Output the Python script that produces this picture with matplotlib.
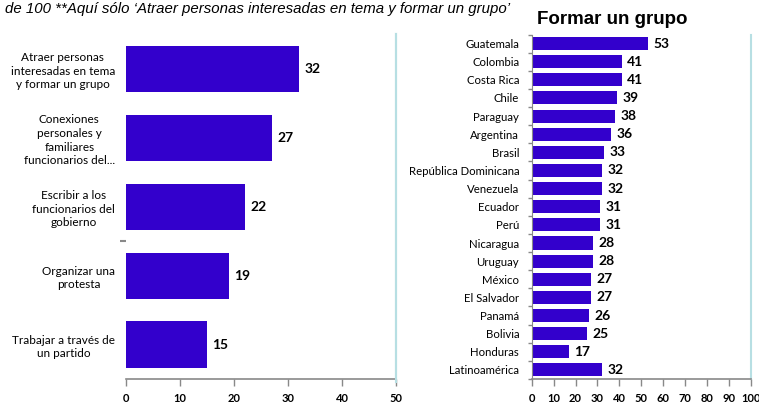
import matplotlib.pyplot as plt
from matplotlib.lines import Line2D

# Left panel: ways to influence the government
acciones = [
    'Atraer personas\ninteresadas en tema\ny formar un grupo',
    'Conexiones\npersonales y\nfamiliares\nfuncionarios del...',
    'Escribir a los\nfuncionarios del\ngobierno',
    'Organizar una\nprotesta',
    'Trabajar a través de\nun partido',
]
acciones_valores = [32, 27, 22, 19, 15]

# Right panel: 'Formar un grupo' by country
paises = ['Guatemala', 'Colombia', 'Costa Rica', 'Chile', 'Paraguay', 'Argentina',
          'Brasil', 'República Dominicana', 'Venezuela', 'Ecuador', 'Perú',
          'Nicaragua', 'Uruguay', 'México', 'El Salvador', 'Panamá', 'Bolivia',
          'Honduras', 'Latinoamérica']
paises_valores = [53, 41, 41, 39, 38, 36, 33, 32, 32, 31, 31, 28, 28, 27, 27,
                  26, 25, 17, 32]

left_ticks = [0, 10, 20, 30, 40, 50]
right_ticks = [0, 10, 20, 30, 40, 50, 60, 70, 80, 90, 100]

BAR = '#3300cc'
GRAY = '#898989'
BORDER = '#b7dfe3'
FONT = 'Lato'

fig = plt.figure(figsize=(7.59, 4.05), dpi=100)

ax1 = fig.add_axes([126 / 759, 1 - 379 / 405, 270 / 759, 344.5 / 405])
ax2 = fig.add_axes([531.7 / 759, 1 - 379 / 405, 219.3 / 759, 344.5 / 405])


def style_axis(ax, ticks, xmax):
    ax.set_xlim(0, xmax)
    ax.set_xticks(ticks)
    ax.set_xticklabels([str(t) for t in ticks], fontfamily=FONT,
                       fontsize=8, fontweight='bold')
    ax.tick_params(axis='x', length=5, width=1, color=GRAY, pad=5)
    ax.spines['top'].set_visible(False)
    ax.spines['bottom'].set_color(GRAY)
    ax.spines['bottom'].set_linewidth(1.2)
    ax.spines['right'].set_color(BORDER)
    ax.spines['right'].set_linewidth(1.5)


# left chart
y1 = range(len(acciones))
ax1.barh(y1, acciones_valores, height=0.67, color=BAR)
ax1.set_ylim(len(acciones) - 0.5, -0.5)
style_axis(ax1, left_ticks, 50)
ax1.spines['left'].set_visible(False)
ax1.set_yticks(list(y1))
ax1.set_yticklabels(acciones, fontfamily=FONT, fontsize=8.5, ha='right',
                    ma='center', linespacing=1.3)
ax1.tick_params(axis='y', length=0, pad=8)
ax1.set_yticks([2.5], minor=True)
ax1.tick_params(axis='y', which='minor', length=4, color=GRAY, width=1.5)
for i, v in enumerate(acciones_valores):
    ax1.text(v + 1, i, str(v), va='center', ha='left', fontfamily=FONT,
             fontsize=10, fontweight='bold')

# right chart
y2 = range(len(paises))
ax2.barh(y2, paises_valores, height=0.72, color=BAR)
ax2.set_ylim(len(paises) - 0.5, -0.5)
style_axis(ax2, right_ticks, 100)
ax2.spines['left'].set_color(GRAY)
ax2.set_yticks(list(y2))
ax2.set_yticklabels(paises, fontfamily=FONT, fontsize=8.2)
ax2.tick_params(axis='y', length=0, pad=9)
ax2.set_yticks([i + 0.5 for i in range(-1, len(paises))], minor=True)
ax2.tick_params(axis='y', which='minor', length=3, color=GRAY, width=1)
for i, v in enumerate(paises_valores):
    ax2.text(v + 2.5, i, str(v), va='center', ha='left', fontfamily=FONT,
             fontsize=10, fontweight='bold')

# outer frame of the right chart area
fig.add_artist(Line2D([396 / 759, 396 / 759], [1 - 382 / 405, 1 - 34 / 405],
                      color=BORDER, linewidth=1.5))

fig.text(612 / 759, 1 - 20 / 405, 'Formar un grupo', ha='center', va='center',
         fontfamily='Liberation Sans', fontsize=13.5, fontweight='bold')
fig.text(5 / 759, 1 - 9 / 405,
         'de 100 **Aquí sólo ‘Atraer personas interesadas en tema y formar un grupo’',
         ha='left', va='center', fontfamily='Liberation Sans', fontsize=10.8,
         fontstyle='italic')

fig.savefig('out.png', dpi=100)
